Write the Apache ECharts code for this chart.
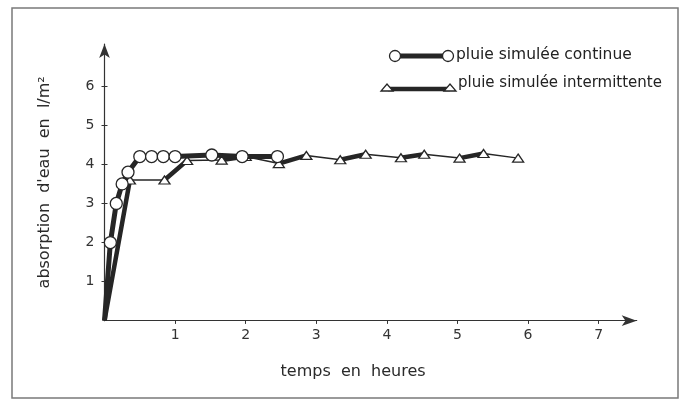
<!DOCTYPE html>
<html>
<head>
<meta charset="utf-8">
<script src="https://cdn.jsdelivr.net/npm/echarts@6/dist/echarts.min.js"></script>
<style>
html,body{margin:0;padding:0;background:#fff;}
#c{width:682px;height:401px;}
</style>
</head>
<body>
<div id="c"></div>
<script>
// ---- data ----
var xTicks = [1, 2, 3, 4, 5, 6, 7];
var yTicks = [1, 2, 3, 4, 5, 6];
var continuousX = [0, 0.083, 0.167, 0.25, 0.333, 0.5, 0.667, 0.833, 1.0, 1.52, 1.95, 2.45];
var continuousY = [0, 2.0, 3.0, 3.5, 3.8, 4.2, 4.2, 4.2, 4.2, 4.24, 4.2, 4.2];
var intermX = [0, 0.36, 0.85, 1.17, 1.66, 2.0, 2.47, 2.86, 3.34, 3.70, 4.20, 4.53, 5.03, 5.37, 5.86];
var intermY = [0, 3.6, 3.6, 4.1, 4.11, 4.2, 4.02, 4.23, 4.12, 4.26, 4.17, 4.26, 4.16, 4.28, 4.16];
// 1 = rain (thick segment to next point), 0 = pause (thin segment)
var intermRain = [1, 0, 1, 0, 1, 0, 1, 0, 1, 0, 1, 0, 1, 0];
var legendNames = ['pluie simulée continue', 'pluie simulée intermittente'];
var xTitle = 'temps  en  heures';
var yTitle = "absorption  d'eau  en  l/m²";

var FONT = 'DejaVu Sans';
var INK = '#262626';

function pts(xs, ys) {
  return xs.map(function (x, i) {
    var p = { value: [x, ys[i]] };
    if (i === 0) p.symbol = 'none';
    return p;
  });
}
var thickData = [];
for (var i = 0; i < intermRain.length; i++) {
  if (intermRain[i]) {
    thickData.push([intermX[i], intermY[i]]);
    thickData.push([intermX[i + 1], intermY[i + 1]]);
    thickData.push([intermX[i + 1], '-']);
  }
}

var chart = echarts.init(document.getElementById('c'));
var axisCommonX = { type: 'value', min: 0, max: 7.54, splitLine: { show: false } };
var axisCommonY = { type: 'value', min: 0, max: 7.08, splitLine: { show: false } };
chart.setOption({
  backgroundColor: '#ffffff',
  animation: false,
  grid: { left: 104.5, right: 45.3, top: 44, bottom: 80.3, containLabel: false },
  xAxis: [
    Object.assign({}, axisCommonX, {
      name: xTitle, nameLocation: 'middle', nameGap: 43,
      nameTextStyle: { fontFamily: FONT, fontSize: 16, color: '#2a2a2a', padding: [0, 35, 0, 0] },
      axisLine: { show: true, lineStyle: { color: '#333', width: 1.2 }, symbol: ['none', 'arrow'], symbolSize: [8, 15] },
      axisTick: { show: true, length: 3, lineStyle: { color: '#333' }, customValues: xTicks },
      axisLabel: { show: true, margin: 8, fontFamily: FONT, fontSize: 14, color: '#333', customValues: xTicks }
    }),
    Object.assign({}, axisCommonX, {
      axisLine: { show: false },
      axisTick: { show: true, inside: true, length: 3, lineStyle: { color: '#333' }, customValues: xTicks },
      axisLabel: { show: false }
    })
  ],
  yAxis: [
    Object.assign({}, axisCommonY, {
      name: yTitle, nameLocation: 'middle', nameGap: 52, nameRotate: 90,
      nameTextStyle: { fontFamily: FONT, fontSize: 16, color: '#2a2a2a' },
      axisLine: { show: true, lineStyle: { color: '#333', width: 1.2 }, symbol: ['none', 'arrow'], symbolSize: [8, 14] },
      axisTick: { show: true, length: 3, lineStyle: { color: '#333' }, customValues: yTicks },
      axisLabel: { show: true, margin: 10, fontFamily: FONT, fontSize: 14, color: '#333', customValues: yTicks }
    }),
    Object.assign({}, axisCommonY, {
      position: 'left',
      axisLine: { show: false },
      axisTick: { show: true, inside: true, length: 3, lineStyle: { color: '#333' }, customValues: yTicks },
      axisLabel: { show: false }
    })
  ],
  series: [
    {
      name: legendNames[1] + ' (pluie)', type: 'line', data: thickData,
      showSymbol: false, symbol: 'none', connectNulls: false,
      lineStyle: { color: INK, width: 4.5 }, z: 2
    },
    {
      name: legendNames[1], type: 'line', data: pts(intermX, intermY),
      symbol: 'triangle', symbolSize: [11, 8],
      lineStyle: { color: INK, width: 1.5 },
      itemStyle: { color: '#fff', borderColor: INK, borderWidth: 1.3 }, z: 3
    },
    {
      name: legendNames[0], type: 'line', data: pts(continuousX, continuousY),
      symbol: 'circle', symbolSize: 12,
      lineStyle: { color: INK, width: 5 },
      itemStyle: { color: '#fff', borderColor: INK, borderWidth: 1.3 }, z: 4
    }
  ],
  graphic: [
    { type: 'rect', shape: { x: 12, y: 8, width: 666, height: 390 }, style: { fill: 'none', stroke: '#7a7a7a', lineWidth: 1.5 }, z: -1 },
    // legend row 1
    { type: 'line', shape: { x1: 395, y1: 56, x2: 448, y2: 56 }, style: { stroke: INK, lineWidth: 5 } },
    { type: 'circle', shape: { cx: 395, cy: 56, r: 5.5 }, style: { fill: '#fff', stroke: INK, lineWidth: 1.3 } },
    { type: 'circle', shape: { cx: 448, cy: 56, r: 5.5 }, style: { fill: '#fff', stroke: INK, lineWidth: 1.3 } },
    { type: 'text', x: 456, y: 55, style: { text: legendNames[0], font: '15.5px "DejaVu Sans"', fill: '#222', verticalAlign: 'middle' } },
    // legend row 2
    { type: 'line', shape: { x1: 388, y1: 89, x2: 450, y2: 89 }, style: { stroke: INK, lineWidth: 4.5 } },
    { type: 'polygon', shape: { points: [[381, 91], [393, 91], [387, 84]] }, style: { fill: '#fff', stroke: INK, lineWidth: 1.3 } },
    { type: 'polygon', shape: { points: [[444, 91], [456, 91], [450, 84]] }, style: { fill: '#fff', stroke: INK, lineWidth: 1.3 } },
    { type: 'text', x: 458, y: 83, style: { text: legendNames[1], font: '15px "DejaVu Sans"', fill: '#222', verticalAlign: 'middle' } }
  ]
});
</script>
</body>
</html>
